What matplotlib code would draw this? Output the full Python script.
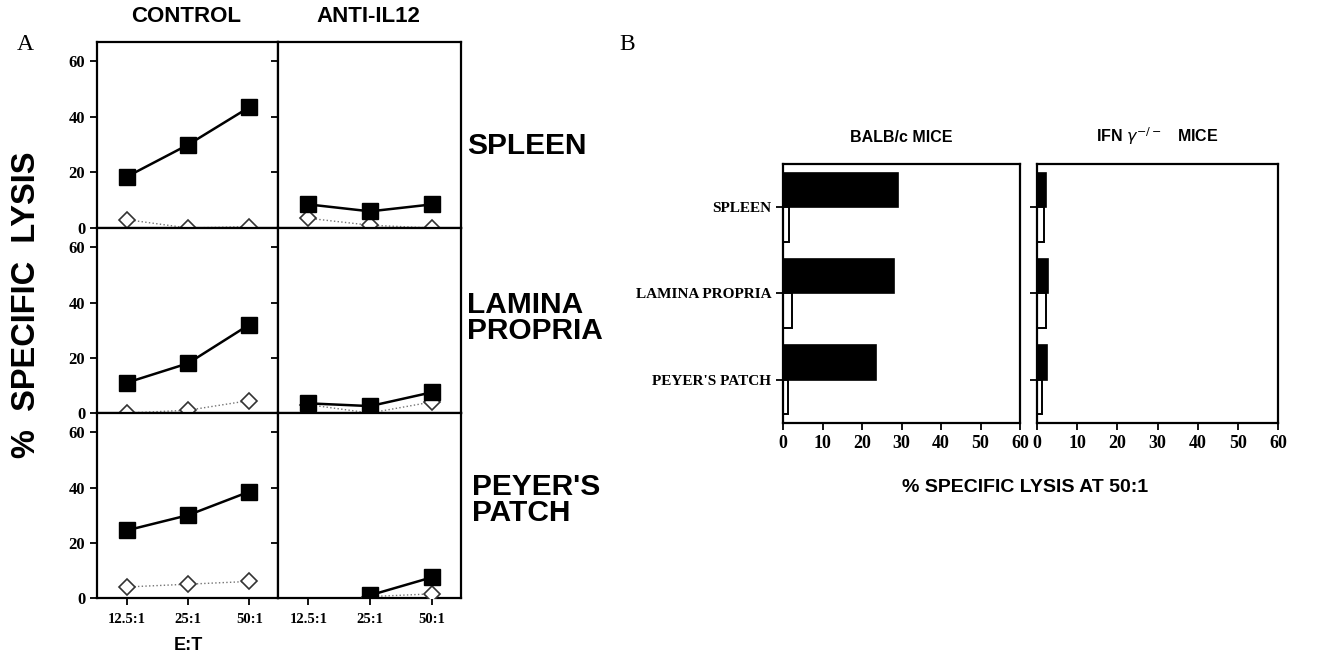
import numpy as np
import matplotlib; matplotlib.use('Agg')
import matplotlib.pyplot as plt

# panel A: % specific lysis vs E:T ratio
ratios = ['12.5:1', '25:1', '50:1']
tissues = ['SPLEEN', 'LAMINA\nPROPRIA', "PEYER'S\nPATCH"]
groups = ['CONTROL', 'ANTI-IL12']
# filled squares (black) / open diamonds, rows = tissues, cols = groups
ctrl_fill = [[18.5, 30, 43.5], [11, 18, 32], [24.5, 30, 38.5]]
ctrl_open = [[3, 0, 0.5], [0, 1, 4.5], [4, 5, 6]]
anti_fill = [[8.5, 6, 8.5], [3.5, 2.5, 7.5], [np.nan, 1, 7.5]]
anti_open = [[3.5, 1, 0], [3, 0, 4], [np.nan, 0.5, 1.5]]

# panel B: % specific lysis at 50:1
b_tissues = ['SPLEEN', 'LAMINA PROPRIA', "PEYER'S PATCH"]
balb_fill = [29, 28, 23.5]
balb_open = [1.5, 2.2, 1.2]
ifn_fill = [2.2, 2.7, 2.5]
ifn_open = [1.7, 2.2, 1.2]

SANS = 'Liberation Sans'; SERIF = 'Liberation Serif'
W, H = 1329, 656
fig = plt.figure(figsize=(W/100, H/100), dpi=100)
def ax_px(x0, y0, x1, y1):
    return fig.add_axes([x0/W, 1-y1/H, (x1-x0)/W, (y1-y0)/H])

cols = [(97, 278), (278, 461)]
rows = [(42, 228), (228, 413), (413, 598)]
label_y = [146, 318, 500]   # row label centres (px from top)
label_x = [467, 467, 472]
title_x = [186, 368]
data = [(ctrl_fill, ctrl_open), (anti_fill, anti_open)]
xs = np.arange(len(ratios))
for r, (y0, y1) in enumerate(rows):
    for c, (x0, x1) in enumerate(cols):
        ax = ax_px(x0, y0, x1, y1)
        fill, opn = data[c]
        ax.plot(xs, opn[r], ls=':', color='0.45', lw=1.0, marker='D', ms=8.5,
                mfc='white', mec='0.2', mew=1.2, zorder=3)
        ax.plot(xs, fill[r], '-', color='black', lw=1.8, marker='s', ms=11,
                mfc='black', mec='black', zorder=4)
        ax.set_xlim(-0.49, 2.47); ax.set_ylim(0, 67)
        ax.set_yticks([0, 20, 40, 60])
        for s in ax.spines.values(): s.set_linewidth(1.6)
        ax.tick_params(axis='y', direction='out', length=5, width=1.3)
        if c == 0:
            ax.set_yticklabels(['0', '20', '40', '60'], fontfamily=SERIF,
                               fontweight='bold', fontsize=12)
        else:
            ax.set_yticklabels([])
        if r == 2:
            ax.set_xticks(xs)
            ax.set_xticklabels(ratios, fontfamily=SERIF, fontweight='bold', fontsize=10.5)
            ax.tick_params(axis='x', direction='out', length=5, width=1.3, pad=6)
        else:
            ax.set_xticks([])

for c, g in enumerate(groups):
    fig.text(title_x[c]/W, 1-16/H, g, ha='center', va='center', fontfamily=SANS,
             fontweight='bold', fontsize=16)
for r, t in enumerate(tissues):
    fig.text(label_x[r]/W, 1-label_y[r]/H, t, ha='left', va='center',
             fontfamily=SANS, fontweight='bold', fontsize=21.5, linespacing=0.93)

fig.text(27/W, 1-305/H, '%  SPECIFIC  LYSIS', rotation=90, ha='center', va='center',
         fontfamily=SANS, fontweight='bold', fontsize=23.5)
fig.text(188/W, 1-645/H, 'E:T', ha='center', va='center', fontfamily=SANS,
         fontweight='bold', fontsize=13)
fig.text(25/W, 1-45/H, 'A', ha='center', va='center', fontfamily=SERIF, fontsize=17)
fig.text(627/W, 1-45/H, 'B', ha='center', va='center', fontfamily=SERIF, fontsize=17)

# panel B bars
yb = np.arange(len(b_tissues))
bh = 0.4
for (x0, x1), fvals, ovals, title, lab in [
        ((783, 1020), balb_fill, balb_open, 'BALB/c MICE', True),
        ((1037, 1278), ifn_fill, ifn_open, r'IFN $\gamma^{-/-}$   MICE', False)]:
    ax = ax_px(x0, 164, x1, 423)
    ax.barh(yb - bh/2, fvals, height=bh, color='black', edgecolor='black', lw=1.2)
    ax.barh(yb + bh/2, ovals, height=bh, color='white', edgecolor='black', lw=1.4)
    ax.set_xlim(0, 60); ax.set_ylim(2.5, -0.5)
    ax.set_xticks(range(0, 61, 10))
    ax.set_xticklabels([str(v) for v in range(0, 61, 10)], fontfamily=SERIF,
                       fontweight='bold', fontsize=13)
    ax.set_yticks(yb)
    if lab:
        ax.set_yticklabels(b_tissues, fontfamily=SERIF, fontweight='bold', fontsize=11)
    else:
        ax.set_yticklabels([])
    ax.tick_params(direction='out', length=5, width=1.3)
    for s in ax.spines.values(): s.set_linewidth(1.6)
    ax.set_title(title, fontfamily=SANS, fontweight='bold', fontsize=11.5, pad=16)

fig.text(1025/W, 1-487/H, '% SPECIFIC LYSIS AT 50:1', ha='center', va='center',
         fontfamily=SANS, fontweight='bold', fontsize=14)

fig.savefig('out.png', dpi=100)
